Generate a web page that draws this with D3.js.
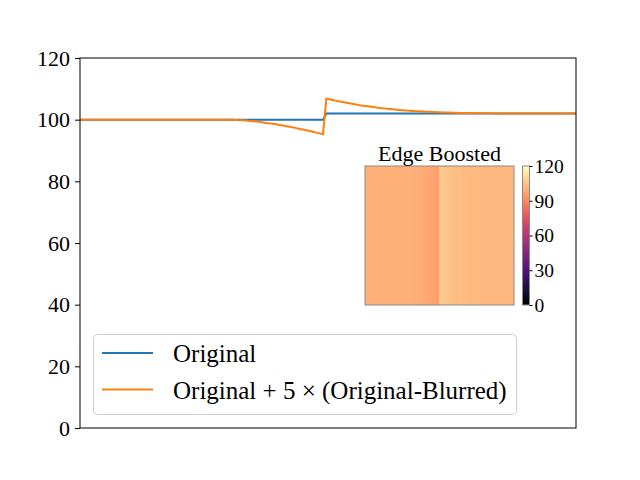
<!DOCTYPE html>
<html>
<head>
<meta charset="utf-8">
<script src="https://cdn.jsdelivr.net/npm/d3@7"></script>
<style>
  body { margin: 0; background: #fff; }
  svg { display: block; font-family: "Liberation Serif", "Times New Roman", serif; }
</style>
</head>
<body>
<div id="chart"></div>
<script>
// values (150 samples, step between 73 and 74)
const original = [
  100,100,100,100,100,100,100,100,100,100,
  100,100,100,100,100,100,100,100,100,100,
  100,100,100,100,100,100,100,100,100,100,
  100,100,100,100,100,100,100,100,100,100,
  100,100,100,100,100,100,100,100,100,100,
  100,100,100,100,100,100,100,100,100,100,
  100,100,100,100,100,100,100,100,100,100,
  100,100,100,100,102,102,102,102,102,102,
  102,102,102,102,102,102,102,102,102,102,
  102,102,102,102,102,102,102,102,102,102,
  102,102,102,102,102,102,102,102,102,102,
  102,102,102,102,102,102,102,102,102,102,
  102,102,102,102,102,102,102,102,102,102,
  102,102,102,102,102,102,102,102,102,102,
  102,102,102,102,102,102,102,102,102,102
]
const boosted = [
  100,100,100,100,100,100,100,100,100,100,
  100,100,100,100,100,100,100,100,100,100,
  100,100,100,100,100,100,100,100,100,100,
  100,100,100,100,100,100,100,100,100,100,
  100,100,100,100,99.99,99.97,99.94,99.9,99.85,99.78,
  99.7,99.6,99.5,99.38,99.25,99.1,98.95,98.8,98.65,98.5,
  98.3,98.1,97.9,97.7,97.5,97.25,97.0,96.8,96.6,96.35,
  96.1,95.8,95.55,95.3,106.8,106.6,106.35,106.1,105.9,105.7,
  105.5,105.3,105.1,104.9,104.7,104.55,104.4,104.25,104.1,103.95,
  103.8,103.7,103.58,103.46,103.35,103.25,103.15,103.06,102.98,102.9,
  102.83,102.76,102.7,102.64,102.58,102.53,102.48,102.44,102.4,102.36,
  102.32,102.29,102.26,102.23,102.2,102.18,102.16,102.14,102.12,102.1,
  102.08,102.07,102.06,102.05,102.04,102.03,102.03,102.02,102.02,102.01,
  102.01,102.01,102,102,102,102,102,102,102,102,
  102,102,102,102,102,102,102,102,102,102
]
const yTicks = [0, 20, 40, 60, 80, 100, 120]
const cbarTicks = [0, 30, 60, 90, 120]
const seriesNames = ['Original', 'Original + 5 × (Original-Blurred)']
const seriesColors = ['#1f77b4', '#ff7f0e']
const insetTitle = 'Edge Boosted'

const width = 640, height = 480
const plot = {left: 80, right: 576, top: 58, bottom: 428}

const svg = d3.select('#chart').append('svg')
  .attr('width', width)
  .attr('height', height)
  .style('background', '#fff')

const xscale = d3.scaleLinear().domain([0, boosted.length - 1]).range([plot.left, plot.right])
const yscale = d3.scaleLinear().domain([0, 120]).range([plot.bottom, plot.top])

// lines
const line = d3.line().x((d, i) => xscale(i)).y(d => yscale(d))
;[original, boosted].forEach((data, k) => {
  svg.append('path')
    .datum(data)
    .attr('d', line)
    .attr('fill', 'none')
    .attr('stroke', seriesColors[k])
    .attr('stroke-width', 2)
    .attr('stroke-linejoin', 'miter')
})

// frame
svg.append('rect')
  .attr('x', plot.left).attr('y', plot.top)
  .attr('width', plot.right - plot.left).attr('height', plot.bottom - plot.top)
  .attr('fill', 'none').attr('stroke', '#000').attr('stroke-width', 1)

// y axis
const yAxis = svg.append('g')
  .attr('transform', `translate(${plot.left},0)`)
  .call(d3.axisLeft(yscale).tickValues(yTicks).tickSize(5).tickPadding(5))
yAxis.select('.domain').remove()
yAxis.selectAll('text')
  .attr('font-family', '"Liberation Serif", serif')
  .attr('font-size', 22)
  .attr('fill', '#000')
  .attr('dy', '0.33em')
yAxis.selectAll('line').attr('stroke', '#000')

// inset image: one column per sample, coloured by boosted value
const color = d3.scaleSequential(d3.interpolateMagma).domain([0, 120])
const img = {left: 365, right: 514, top: 166, bottom: 305}
const ximg = d3.scaleLinear().domain([0, boosted.length]).range([img.left, img.right])

svg.append('g')
  .selectAll('rect')
  .data(boosted)
  .enter()
  .append('rect')
  .attr('x', (d, i) => ximg(i))
  .attr('y', img.top)
  .attr('width', (d, i) => ximg(i + 1) - ximg(i) + 0.4)
  .attr('height', img.bottom - img.top)
  .attr('fill', d => color(d))
  .attr('shape-rendering', 'crispEdges')

svg.append('rect')
  .attr('x', img.left).attr('y', img.top)
  .attr('width', img.right - img.left).attr('height', img.bottom - img.top)
  .attr('fill', 'none').attr('stroke', '#8a8a8a').attr('stroke-width', 1)

svg.append('text')
  .attr('x', (img.left + img.right) / 2)
  .attr('y', 161)
  .attr('text-anchor', 'middle')
  .attr('font-size', 22)
  .text(insetTitle)

// colorbar
const cb = {left: 522.5, right: 529.5, top: 166, bottom: 305}
const ycb = d3.scaleLinear().domain([0, 120]).range([cb.bottom, cb.top])
const grad = svg.append('defs').append('linearGradient')
  .attr('id', 'cbgrad')
  .attr('x1', 0).attr('y1', 1).attr('x2', 0).attr('y2', 0)
grad.selectAll('stop')
  .data(d3.range(0, 1.0001, 0.05))
  .enter()
  .append('stop')
  .attr('offset', d => d)
  .attr('stop-color', d => d3.interpolateMagma(d))

svg.append('rect')
  .attr('x', cb.left).attr('y', cb.top)
  .attr('width', cb.right - cb.left).attr('height', cb.bottom - cb.top)
  .attr('fill', 'url(#cbgrad)')
  .attr('stroke', '#8a8a8a').attr('stroke-width', 1)

const cbAxis = svg.append('g')
  .attr('transform', `translate(${cb.right},0)`)
  .call(d3.axisRight(ycb).tickValues(cbarTicks).tickSize(3).tickPadding(2))
cbAxis.select('.domain').remove()
cbAxis.selectAll('text')
  .attr('font-family', '"Liberation Serif", serif')
  .attr('font-size', 19.5)
  .attr('fill', '#000')
  .attr('dy', '0.33em')
cbAxis.selectAll('line').attr('stroke', '#000')

// legend
const legend = svg.append('g')
legend.append('rect')
  .attr('x', 93.5).attr('y', 334.5)
  .attr('width', 423).attr('height', 80)
  .attr('rx', 4)
  .attr('fill', '#fff').attr('fill-opacity', 0.8)
  .attr('stroke', '#d0d0d0').attr('stroke-width', 1)

seriesNames.forEach((name, k) => {
  const ly = 353 + k * 36.5
  legend.append('line')
    .attr('x1', 102).attr('x2', 153)
    .attr('y1', ly).attr('y2', ly)
    .attr('stroke', seriesColors[k]).attr('stroke-width', 2)
  legend.append('text')
    .attr('x', 173).attr('y', ly + 9)
    .attr('font-size', 25)
    .text(name)
})
</script>
</body>
</html>
